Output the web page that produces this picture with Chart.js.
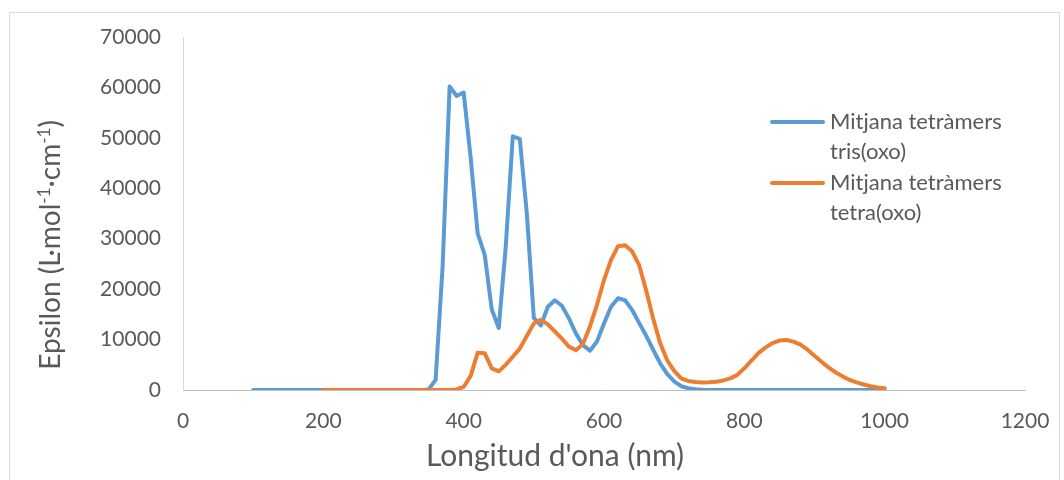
<!DOCTYPE html>
<html lang="ca">
<head>
<meta charset="UTF-8">
<title>Epsilon - longitud d'ona</title>
<script src="https://cdn.jsdelivr.net/npm/chart.js"></script>
<style>
  html, body { margin: 0; padding: 0; background: #fff; }
  #wrap { width: 1064px; height: 480px; }
</style>
</head>
<body>
<div id="wrap"><canvas id="chart" width="1064" height="480"></canvas></div>
<script>
// longitud d'ona (nm) i epsilon llegits del gràfic
const trisWl = [100, 340, 350, 360, 370, 380, 390, 400, 410, 420, 430, 440, 450, 460, 470, 480, 490, 500,
  510, 520, 530, 540, 550, 560, 570, 580, 590, 600, 610, 620, 630, 640, 650, 660, 670, 680, 690, 700,
  710, 720, 730, 740, 750, 760, 1000];
const trisEps = [0, 0, 100, 2000, 24500, 60200, 58300, 59000, 46000, 31000, 26800, 16000, 12300, 28500, 50300, 49800, 35000, 14300,
  12800, 16500, 17800, 16700, 14200, 11200, 8900, 7800, 9600, 13200, 16500, 18200, 17800, 15900, 13300, 10800, 8000, 5300, 3200, 1700,
  750, 350, 150, 60, 20, 0, 0];

const tetraWl = [200, 380, 390, 400, 410, 420, 430, 440, 450, 460, 470, 480, 490, 500,
  510, 520, 530, 540, 550, 560, 570, 580, 590, 600, 610, 620, 630, 640, 650, 660, 670, 680, 690, 700,
  710, 720, 730, 740, 750, 760, 770, 780, 790, 800, 810, 820, 830, 840, 850, 860, 870, 880, 890, 900,
  910, 920, 930, 940, 950, 960, 970, 980, 990, 1000];
const tetraEps = [0, 0, 100, 600, 2800, 7400, 7300, 4300, 3700, 5000, 6600, 8200, 10700, 13200,
  13900, 13000, 11600, 10200, 8600, 7900, 9100, 12600, 16900, 21800, 25800, 28500, 28700, 27500, 24800, 19800, 14200, 9300, 5900, 3800,
  2300, 1800, 1600, 1500, 1550, 1650, 1900, 2300, 3000, 4300, 5800, 7300, 8400, 9300, 9800, 9900, 9600, 9000, 8000, 6800,
  5600, 4500, 3500, 2700, 2000, 1500, 1100, 750, 500, 350];

const seriesNames = ['Mitjana tetràmers\ntris(oxo)', 'Mitjana tetràmers\ntetra(oxo)'];
const seriesColors = ['#5B9BD5', '#ED7D31'];

const xTitle = "Longitud d'ona (nm)";
const yTitleParts = [['Epsilon (L·mol', false], ['-1', true], ['·cm', false], ['-1', true], [')', false]];

const textColor = '#595959';
const fontFam = 'Lato, "Open Sans", sans-serif';

function toPoints(xs, ys) {
  return xs.map((x, i) => ({ x: x, y: ys[i] }));
}

// marc, llegenda i títols dels eixos
const extras = {
  id: 'extras',
  beforeDraw(chart) {
    const ctx = chart.ctx;
    ctx.save();
    ctx.fillStyle = '#fff';
    ctx.fillRect(0, 0, chart.width, chart.height);
    ctx.strokeStyle = '#d9d9d9';
    ctx.lineWidth = 1;
    ctx.strokeRect(9.5, 12.5, 1050, 480);
    ctx.restore();
  },
  afterDraw(chart) {
    const ctx = chart.ctx;
    ctx.save();
    // llegenda
    chart.data.datasets.forEach((ds, i) => {
      const y0 = 122 + i * 61;
      ctx.strokeStyle = ds.borderColor;
      ctx.lineWidth = 4;
      ctx.lineCap = 'round';
      ctx.beginPath();
      ctx.moveTo(772, y0);
      ctx.lineTo(823, y0);
      ctx.stroke();
      ctx.fillStyle = textColor;
      ctx.font = '22px ' + fontFam;
      ctx.textBaseline = 'middle';
      ctx.textAlign = 'left';
      ds.label.split('\n').forEach((line, k) => {
        ctx.fillText(line, 830, y0 + k * 30);
      });
    });
    // títol X
    ctx.font = '30px ' + fontFam;
    ctx.textAlign = 'center';
    ctx.textBaseline = 'alphabetic';
    ctx.fillText(xTitle, 555, 466);
    // títol Y
    ctx.translate(60, 245);
    ctx.rotate(-Math.PI / 2);
    ctx.textAlign = 'left';
    const big = '28px ' + fontFam, small = '17px ' + fontFam;
    let total = 0;
    yTitleParts.forEach(([t, sup]) => {
      ctx.font = sup ? small : big;
      total += ctx.measureText(t).width;
    });
    let x = -total / 2;
    yTitleParts.forEach(([t, sup]) => {
      ctx.font = sup ? small : big;
      ctx.fillText(t, x, sup ? -10 : 0);
      x += ctx.measureText(t).width;
    });
    ctx.restore();
  }
};

new Chart(document.getElementById('chart'), {
  type: 'line',
  data: {
    datasets: [
      {
        label: seriesNames[0],
        data: toPoints(trisWl, trisEps),
        borderColor: seriesColors[0],
        backgroundColor: seriesColors[0],
        borderWidth: 4,
        pointRadius: 0,
        tension: 0,
        borderCapStyle: 'round',
        borderJoinStyle: 'round',
        order: 1
      },
      {
        label: seriesNames[1],
        data: toPoints(tetraWl, tetraEps),
        borderColor: seriesColors[1],
        backgroundColor: seriesColors[1],
        borderWidth: 4,
        pointRadius: 0,
        tension: 0,
        borderCapStyle: 'round',
        borderJoinStyle: 'round',
        order: 0
      }
    ]
  },
  options: {
    responsive: false,
    animation: false,
    layout: { padding: { top: 37, right: 39, left: 0, bottom: 0 } },
    plugins: {
      legend: { display: false },
      tooltip: { enabled: false }
    },
    scales: {
      x: {
        type: 'linear',
        min: 0,
        max: 1200,
        ticks: {
          stepSize: 200,
          color: textColor,
          font: { family: fontFam, size: 21 },
          padding: 19,
          maxRotation: 0,
          callback: v => String(v)
        },
        grid: { display: false, drawTicks: false },
        border: { display: true, color: '#bfbfbf', width: 1 },
        afterFit(scale) {
          scale.height = 90;
          scale.paddingLeft = 0;
          scale.paddingRight = 0;
        }
      },
      y: {
        min: 0,
        max: 70000,
        ticks: {
          stepSize: 10000,
          color: textColor,
          font: { family: fontFam, size: 21 },
          padding: 22,
          callback: v => String(v)
        },
        grid: { display: false, drawTicks: false },
        border: { display: true, color: '#d9d9d9', width: 1 },
        afterFit(scale) {
          scale.width = 183;
          scale.paddingTop = 0;
        }
      }
    }
  },
  plugins: [extras]
});
</script>
</body>
</html>
